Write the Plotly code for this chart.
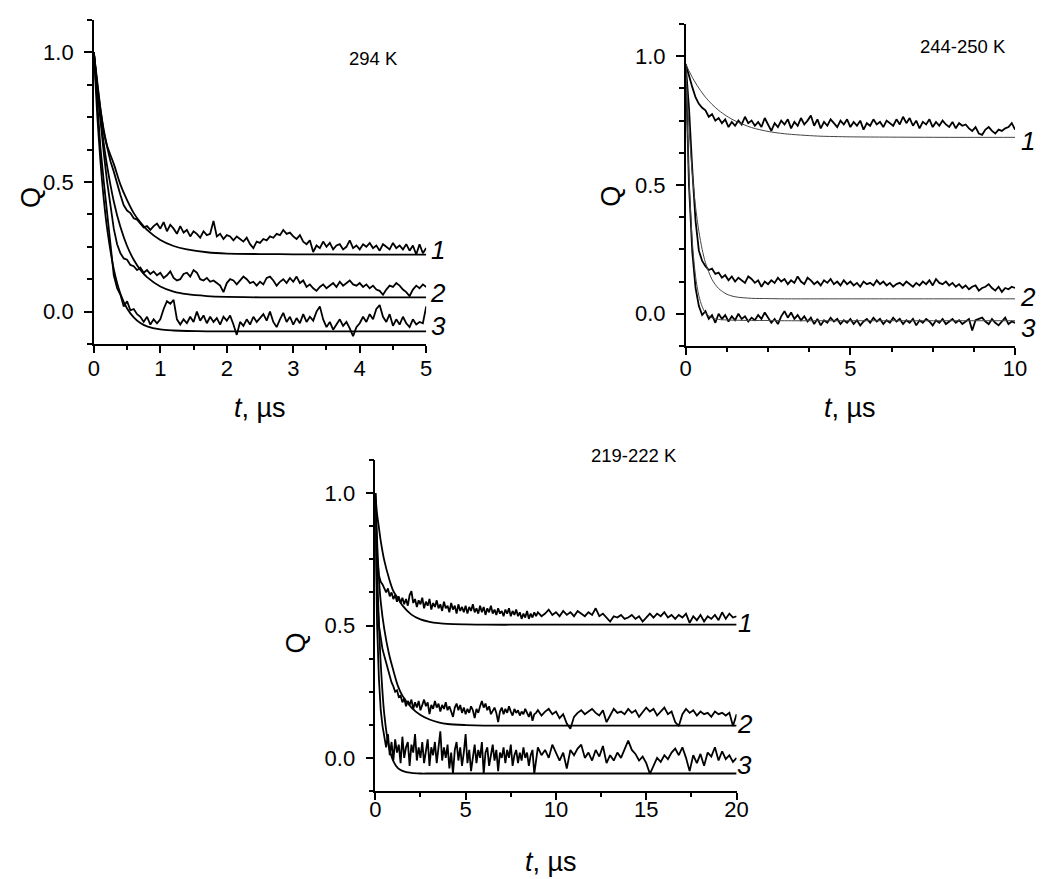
import numpy as np
import plotly.graph_objects as go

FONT = "Liberation Sans, Arial, sans-serif"
W, H = 1050, 879
# the page places the figure with a small body margin; these map reference pixels to paper fractions
X0, XW = 12, 1034
Y0, YH = 8, 879

# ---- panel 1: 294 K, t = 0..5 us, sampled every 0.05 us ----
p1_t = np.round(np.arange(101) * 0.05, 2)
p1_q1 = [1.0, 0.88, 0.78, 0.69, 0.63, 0.58, 0.54, 0.49, 0.45, 0.41,
         0.39, 0.38, 0.36, 0.355, 0.34, 0.325, 0.33, 0.315, 0.33, 0.34,
         0.32, 0.345, 0.31, 0.335, 0.32, 0.30, 0.33, 0.305, 0.315, 0.29,
         0.31, 0.30, 0.285, 0.31, 0.295, 0.30, 0.35, 0.29, 0.30, 0.28,
         0.295, 0.29, 0.275, 0.29, 0.28, 0.27, 0.285, 0.26, 0.245, 0.27,
         0.265, 0.28, 0.275, 0.29, 0.285, 0.30, 0.295, 0.315, 0.30, 0.305,
         0.29, 0.28, 0.295, 0.27, 0.26, 0.275, 0.23, 0.255, 0.245, 0.27,
         0.25, 0.265, 0.24, 0.255, 0.26, 0.24, 0.25, 0.275, 0.245, 0.255,
         0.24, 0.26, 0.25, 0.265, 0.245, 0.255, 0.235, 0.26, 0.25, 0.24,
         0.265, 0.245, 0.255, 0.24, 0.26, 0.235, 0.255, 0.22, 0.26, 0.225,
         0.245]
p1_q2 = [1.0, 0.86, 0.74, 0.61, 0.50, 0.40, 0.32, 0.26, 0.225, 0.205,
         0.20, 0.18, 0.175, 0.16, 0.17, 0.15, 0.16, 0.145, 0.155, 0.14,
         0.15, 0.13, 0.14, 0.155, 0.13, 0.12, 0.125, 0.145, 0.15, 0.135,
         0.16, 0.15, 0.125, 0.12, 0.13, 0.115, 0.12, 0.11, 0.10, 0.075,
         0.11, 0.125, 0.12, 0.105, 0.12, 0.135, 0.125, 0.11, 0.115, 0.10,
         0.115, 0.105, 0.13, 0.135, 0.12, 0.10, 0.115, 0.125, 0.11, 0.13,
         0.115, 0.135, 0.11, 0.12, 0.095, 0.105, 0.09, 0.08, 0.095, 0.105,
         0.09, 0.10, 0.11, 0.095, 0.115, 0.10, 0.11, 0.12, 0.105, 0.10,
         0.11, 0.095, 0.105, 0.09, 0.10, 0.085, 0.08, 0.065, 0.085, 0.10,
         0.095, 0.11, 0.10, 0.085, 0.075, 0.06, 0.085, 0.10, 0.09, 0.105,
         0.095]
p1_q3 = [1.0, 0.80, 0.63, 0.50, 0.37, 0.26, 0.14, 0.09, 0.065, 0.02,
         0.04, 0.005, 0.01, -0.01, -0.02, -0.04, -0.02, -0.05, -0.03, -0.045,
         -0.03, 0.01, 0.04, 0.03, 0.045, -0.03, -0.05, -0.03, -0.045, -0.02,
         -0.04, 0.0, -0.035, -0.015, -0.045, -0.02, -0.04, -0.025, -0.05, -0.02,
         -0.035, -0.015, -0.05, -0.09, -0.04, -0.055, -0.03, -0.05, -0.02, -0.04,
         -0.025, -0.01, -0.035, 0.0, -0.04, -0.06, -0.03, -0.005, -0.04, -0.02,
         -0.05, -0.025, -0.045, -0.01, -0.04, -0.02, -0.035, 0.0, 0.02, -0.03,
         -0.06, -0.04, -0.07, -0.05, -0.03, -0.055, -0.04, -0.065, -0.095, -0.06,
         -0.045, -0.02, -0.04, -0.01, -0.03, 0.01, 0.025, -0.02, -0.04, -0.01,
         -0.055, -0.03, -0.05, -0.02, -0.045, -0.06, -0.03, -0.05, -0.04, -0.045,
         0.02]
p1_fit_t = [0, 0.05, 0.1, 0.15, 0.2, 0.3, 0.4, 0.5, 0.6, 0.7, 0.8, 1.0, 1.2, 1.4, 1.7, 2.0, 2.5, 3.0, 4.0, 5.0]
p1_fit1 = [1.0, 0.88, 0.78, 0.70, 0.64, 0.57, 0.49, 0.43, 0.38, 0.344, 0.315, 0.276, 0.253, 0.24, 0.229,
           0.224, 0.222, 0.221, 0.22, 0.22]
p1_fit2 = [1.0, 0.863, 0.747, 0.647, 0.561, 0.425, 0.326, 0.253, 0.20, 0.161, 0.133, 0.097, 0.077, 0.067,
           0.06, 0.057, 0.055, 0.055, 0.055, 0.055]
p1_fit3 = [1.0, 0.762, 0.577, 0.432, 0.32, 0.164, 0.069, 0.012, -0.022, -0.044, -0.057, -0.069, -0.073,
           -0.075, -0.076, -0.076, -0.076, -0.076, -0.076, -0.076]

# ---- panel 2: 244-250 K, t = 0..10 us, sampled every 0.1 us ----
p2_t = np.round(np.arange(101) * 0.1, 1)
p2_q1 = [0.97, 0.92, 0.88, 0.84, 0.815, 0.80, 0.79, 0.765, 0.775, 0.75,
         0.76, 0.74, 0.755, 0.725, 0.745, 0.73, 0.75, 0.735, 0.765, 0.74,
         0.75, 0.73, 0.745, 0.725, 0.76, 0.735, 0.71, 0.74, 0.725, 0.75,
         0.735, 0.755, 0.72, 0.745, 0.73, 0.76, 0.735, 0.75, 0.77, 0.73,
         0.755, 0.72, 0.745, 0.73, 0.755, 0.74, 0.725, 0.75, 0.735, 0.755,
         0.725, 0.745, 0.73, 0.75, 0.715, 0.74, 0.73, 0.755, 0.735, 0.745,
         0.725, 0.75, 0.74, 0.73, 0.755, 0.735, 0.765, 0.74, 0.76, 0.73,
         0.75, 0.72, 0.745, 0.735, 0.755, 0.725, 0.745, 0.73, 0.75, 0.735,
         0.725, 0.745, 0.72, 0.74, 0.73, 0.735, 0.72, 0.71, 0.725, 0.70,
         0.695, 0.715, 0.725, 0.71, 0.70, 0.715, 0.71, 0.72, 0.725, 0.74,
         0.715]
p2_q2 = [0.97, 0.80, 0.56, 0.36, 0.245, 0.205, 0.185, 0.17, 0.175, 0.155,
         0.16, 0.14, 0.15, 0.13, 0.145, 0.125, 0.14, 0.13, 0.12, 0.145,
         0.135, 0.12, 0.13, 0.105, 0.125, 0.115, 0.13, 0.12, 0.14, 0.125,
         0.135, 0.115, 0.13, 0.12, 0.145, 0.125, 0.115, 0.14, 0.13, 0.115,
         0.125, 0.11, 0.13, 0.12, 0.135, 0.115, 0.125, 0.11, 0.13, 0.115,
         0.125, 0.11, 0.12, 0.105, 0.125, 0.115, 0.12, 0.11, 0.13, 0.115,
         0.125, 0.11, 0.12, 0.105, 0.115, 0.12, 0.11, 0.125, 0.115, 0.105,
         0.12, 0.11, 0.125, 0.115, 0.13, 0.11, 0.135, 0.12, 0.115, 0.125,
         0.11, 0.12, 0.105, 0.115, 0.10, 0.11, 0.095, 0.105, 0.11, 0.09,
         0.10, 0.105, 0.115, 0.10, 0.09, 0.105, 0.085, 0.10, 0.095, 0.105,
         0.10]
p2_q3 = [0.97, 0.50, 0.24, 0.10, 0.03, -0.005, 0.01, -0.02, -0.005, -0.035,
         0.0, -0.02, -0.005, -0.03, -0.01, -0.025, 0.0, -0.02, -0.01, -0.03,
         -0.015, -0.025, -0.005, -0.02, 0.005, -0.015, -0.035, -0.02, -0.04, -0.01,
         0.01, -0.015, 0.005, -0.02, -0.005, -0.025, -0.01, -0.03, -0.015, -0.04,
         -0.02, -0.045, -0.025, -0.035, -0.015, -0.03, -0.02, -0.04, -0.025, -0.035,
         -0.02, -0.04, -0.025, -0.045, -0.03, -0.02, -0.035, -0.015, -0.03, -0.02,
         -0.04, -0.025, -0.035, -0.015, -0.03, -0.02, -0.04, -0.025, -0.035, -0.02,
         -0.045, -0.025, -0.035, -0.02, -0.03, -0.045, -0.025, -0.035, -0.02, -0.04,
         -0.03, -0.02, -0.035, -0.025, -0.04, -0.03, -0.02, -0.065, -0.025, -0.02,
         -0.015, -0.03, -0.04, -0.02, -0.035, -0.045, -0.03, -0.015, -0.04, -0.03,
         -0.035]
p2_fit_t = [0, 0.1, 0.2, 0.3, 0.4, 0.5, 0.6, 0.8, 1.0, 1.25, 1.5, 2.0, 2.5, 3.0, 4.0, 5.0, 6.0, 8.0, 10.0]
p2_fit1 = [0.97, 0.943, 0.918, 0.896, 0.876, 0.858, 0.841, 0.813, 0.79, 0.767, 0.749, 0.723, 0.708, 0.699,
           0.69, 0.687, 0.686, 0.685, 0.685]
p2_fit2 = [0.97, 0.726, 0.546, 0.415, 0.32, 0.25, 0.198, 0.133, 0.098, 0.076, 0.066, 0.06, 0.059, 0.058,
           0.058, 0.058, 0.058, 0.058, 0.058]
p2_fit3 = [0.97, 0.527, 0.282, 0.145, 0.07, 0.028, 0.004, -0.016, -0.022, -0.024, -0.025, -0.026, -0.026,
           -0.027, -0.027, -0.027, -0.027, -0.027, -0.027]

# ---- panel 3: 219-222 K, dense 0..8.9 us (0.1 us), then 9..20 us (0.2 us) ----
p3_t = np.concatenate([np.round(np.arange(90) * 0.1, 1), np.round(9 + np.arange(56) * 0.2, 1)])
p3_q1 = [1.0, 0.76, 0.69, 0.665, 0.655, 0.64, 0.625, 0.64, 0.61, 0.625,
         0.60, 0.615, 0.59, 0.61, 0.585, 0.605, 0.58, 0.60, 0.575, 0.615,
         0.63, 0.585, 0.60, 0.57, 0.595, 0.58, 0.605, 0.565, 0.59, 0.575,
         0.60, 0.56, 0.585, 0.57, 0.595, 0.565, 0.58, 0.555, 0.59, 0.565,
         0.575, 0.55, 0.585, 0.56, 0.575, 0.545, 0.58, 0.555, 0.57, 0.55,
         0.575, 0.545, 0.57, 0.555, 0.58, 0.55, 0.565, 0.545, 0.575, 0.55,
         0.57, 0.54, 0.565, 0.55, 0.575, 0.545, 0.56, 0.54, 0.565, 0.545,
         0.555, 0.535, 0.56, 0.545, 0.565, 0.535, 0.555, 0.54, 0.56, 0.535,
         0.55, 0.525, 0.545, 0.53, 0.555, 0.525, 0.545, 0.53, 0.55, 0.535,
         0.55, 0.535, 0.545, 0.56, 0.54, 0.55, 0.535, 0.555, 0.54, 0.55,
         0.535, 0.555, 0.545, 0.535, 0.55, 0.54, 0.565, 0.535, 0.545, 0.53,
         0.515, 0.535, 0.53, 0.54, 0.525, 0.53, 0.54, 0.525, 0.535, 0.515,
         0.53, 0.545, 0.53, 0.545, 0.535, 0.55, 0.53, 0.54, 0.525, 0.54,
         0.53, 0.545, 0.51, 0.535, 0.52, 0.54, 0.515, 0.535, 0.525, 0.54,
         0.52, 0.55, 0.525, 0.545, 0.53, 0.535]
p3_q2 = [0.90, 0.62, 0.50, 0.45, 0.41, 0.385, 0.36, 0.325, 0.31, 0.285,
         0.27, 0.25, 0.255, 0.23, 0.235, 0.21, 0.225, 0.195, 0.215, 0.20,
         0.22, 0.185, 0.21, 0.19, 0.215, 0.18, 0.20, 0.22, 0.195, 0.21,
         0.165, 0.20, 0.185, 0.215, 0.19, 0.205, 0.175, 0.20, 0.185, 0.21,
         0.18, 0.195, 0.175, 0.155, 0.19, 0.205, 0.18, 0.20, 0.17, 0.19,
         0.165, 0.185, 0.17, 0.195, 0.18, 0.15, 0.185, 0.17, 0.195, 0.215,
         0.19, 0.205, 0.18, 0.195, 0.165, 0.18, 0.19, 0.17, 0.135, 0.175,
         0.19, 0.165, 0.185, 0.17, 0.195, 0.175, 0.16, 0.185, 0.17, 0.18,
         0.16, 0.175, 0.165, 0.185, 0.17, 0.155, 0.175, 0.14, 0.165, 0.17,
         0.18, 0.16, 0.175, 0.185, 0.165, 0.175, 0.15, 0.165, 0.13, 0.11,
         0.155, 0.17, 0.18, 0.165, 0.175, 0.185, 0.17, 0.16, 0.18, 0.135,
         0.16, 0.185, 0.17, 0.175, 0.165, 0.185, 0.17, 0.18, 0.155, 0.175,
         0.19, 0.175, 0.185, 0.16, 0.175, 0.19, 0.165, 0.175, 0.135, 0.12,
         0.165, 0.185, 0.17, 0.18, 0.16, 0.175, 0.165, 0.17, 0.155, 0.175,
         0.165, 0.17, 0.16, 0.17, 0.12, 0.165]
p3_q3 = [0.85, 0.50, 0.30, 0.18, 0.12, 0.07, 0.04, 0.09, 0.01, 0.06,
         -0.01, 0.07, 0.02, 0.05, -0.02, 0.08, 0.0, 0.04, 0.06, -0.03,
         0.05, 0.02, 0.09, -0.01, 0.04, 0.0, 0.06, -0.02, 0.03, 0.07,
         -0.03, 0.04, 0.01, 0.06, -0.02, 0.03, 0.10, -0.01, 0.04, 0.0,
         0.05, -0.04, 0.02, -0.06, 0.03, 0.06, -0.01, 0.04, -0.03, 0.02,
         0.09, -0.02, 0.03, -0.05, 0.01, 0.05, -0.02, 0.03, 0.0, 0.06,
         -0.06, 0.02, 0.04, -0.03, 0.01, 0.05, -0.01, 0.03, -0.05, 0.02,
         0.0, 0.04, -0.02, 0.03, 0.0, 0.05, -0.03, 0.01, 0.03, -0.02,
         0.02, -0.01, 0.04, 0.0, 0.02, -0.03, 0.01, 0.03, -0.06, 0.0,
         0.04, 0.01, 0.03, 0.0, 0.05, 0.02, -0.01, 0.02, -0.04, 0.03,
         0.01, 0.035, 0.05, 0.0, 0.02, -0.01, 0.03, 0.005, 0.045, -0.02,
         0.01, -0.01, 0.02, 0.0, 0.03, 0.065, 0.03, 0.015, -0.01, 0.005,
         -0.02, -0.06, -0.03, 0.0, -0.015, 0.01, -0.005, 0.02, 0.035, 0.01,
         0.04, 0.0, -0.05, 0.01, -0.02, 0.015, -0.03, 0.02, 0.005, 0.04,
         -0.01, 0.025, -0.005, 0.01, -0.015, 0.0]
p3_fit_t = [0, 0.1, 0.2, 0.3, 0.5, 0.75, 1.0, 1.25, 1.5, 2.0, 2.5, 3.0, 3.5, 4.0, 5.0, 6.0, 8.0, 12.0, 20.0]
p3_fit1 = [1.0, 0.92, 0.87, 0.82, 0.745, 0.68, 0.63, 0.603, 0.576, 0.541, 0.523, 0.514, 0.509, 0.506,
           0.504, 0.503, 0.503, 0.503, 0.503]
p3_fit2 = [1.0, 0.82, 0.68, 0.59, 0.485, 0.395, 0.33, 0.272, 0.235, 0.19, 0.162, 0.145, 0.134, 0.128,
           0.124, 0.122, 0.122, 0.122, 0.122]
p3_fit3 = [1.0, 0.716, 0.508, 0.356, 0.163, 0.043, -0.012, -0.039, -0.049, -0.057, -0.059, -0.059,
           -0.059, -0.059, -0.059, -0.059, -0.059, -0.059, -0.059]

temps = ["294 K", "244-250 K", "219-222 K"]
curve_labels = ["1", "2", "3"]


def px(x):
    return (x - X0) / XW


def py(y):
    return 1 - (y - Y0) / YH


fig = go.Figure()


def add_panel(n, t, qs, fit_t, fits, fit_style):
    xa, ya = ("x", "y") if n == 1 else (f"x{n}", f"y{n}")
    for q in qs:
        fig.add_trace(go.Scatter(x=t, y=q, mode="lines", xaxis=xa, yaxis=ya,
                                 line=dict(color="black", width=1.8)))
    for f in fits:
        fig.add_trace(go.Scatter(x=fit_t, y=f, mode="lines", xaxis=xa, yaxis=ya,
                                 line=dict(shape="spline", smoothing=0.8, **fit_style)))


add_panel(1, p1_t, [p1_q1, p1_q2, p1_q3], p1_fit_t, [p1_fit1, p1_fit2, p1_fit3],
          dict(color="black", width=1.8))
add_panel(2, p2_t, [p2_q1, p2_q2, p2_q3], p2_fit_t, [p2_fit1, p2_fit2, p2_fit3],
          dict(color="#444444", width=1.0))
add_panel(3, p3_t, [p3_q1, p3_q2, p3_q3], p3_fit_t, [p3_fit1, p3_fit2, p3_fit3],
          dict(color="black", width=1.8))


def xax(domain, anchor, rng, dtick, minor, standoff):
    return dict(domain=domain, anchor=anchor, range=rng, tick0=0, dtick=dtick,
                ticks="outside", ticklen=7, tickwidth=1.5, tickcolor="black",
                minor=dict(tick0=0, dtick=minor, ticks="outside", ticklen=4, tickwidth=1.5,
                           tickcolor="black"),
                showline=True, linecolor="black", linewidth=1.5, showgrid=False, zeroline=False,
                ticklabelstandoff=standoff, tickfont=dict(size=22, color="black"))


def yax(domain, anchor):
    return dict(domain=domain, anchor=anchor, range=[-0.1251, 1.1251], tick0=0, dtick=0.5,
                tickformat=".1f", ticks="outside", ticklen=8, tickwidth=1.5, tickcolor="black",
                minor=dict(tick0=0, dtick=0.125, ticks="outside", ticklen=5, tickwidth=1.5,
                           tickcolor="black"),
                showline=True, linecolor="black", linewidth=1.5, showgrid=False, zeroline=False,
                ticklabelstandoff=6, tickfont=dict(size=22, color="black"))


ann = []
title_font = dict(size=27, color="black", family=FONT)
label_font = dict(size=26, color="black", family=FONT)
panel_geo = [
    # (temperature text px, Q title px, t title px, curve label x px, curve label y px)
    ((372, 58), (29, 197), (258, 408), 437, [250, 293, 326]),
    ((963, 47), (610, 196), (850, 408), 1028, [141, 297, 328]),
    ((633, 456), (295, 643), (550, 862), 744, [623, 724, 765]),
]


def note(text, x, y, font, angle=0):
    return dict(text=text, x=px(x), y=py(y), xref="paper", yref="paper", xanchor="center",
                yanchor="middle", showarrow=False, textangle=angle, font=font)


for i, (tp, qp, tt, lx, lys) in enumerate(panel_geo):
    ann.append(note(temps[i], tp[0], tp[1], dict(size=18.5, color="black", family=FONT)))
    ann.append(note("Q", qp[0], qp[1], title_font, -90))
    ann.append(note("<i>t</i>, \u00b5s", tt[0], tt[1], title_font))
    for lab, ly in zip(curve_labels, lys):
        ann.append(note(f"<i>{lab}</i>", lx, ly, label_font))

fig.update_layout(
    width=W, height=H, margin=dict(l=0, r=0, t=0, b=0),
    paper_bgcolor="white", plot_bgcolor="white", showlegend=False,
    font=dict(family=FONT, color="black"),
    xaxis=xax([px(92), px(425)], "y", [0, 5], 1, 0.5, -3),
    yaxis=yax([py(344), py(20)], "x"),
    xaxis2=xax([px(685), px(1015)], "y2", [0, 10], 5, 1.25, -5),
    yaxis2=yax([py(346), py(24)], "x2"),
    xaxis3=xax([px(374), px(736)], "y3", [0, 20], 5, 2.5, -9),
    yaxis3=yax([py(791), py(460)], "x3"),
    annotations=ann,
)

fig.write_html("out.html")
